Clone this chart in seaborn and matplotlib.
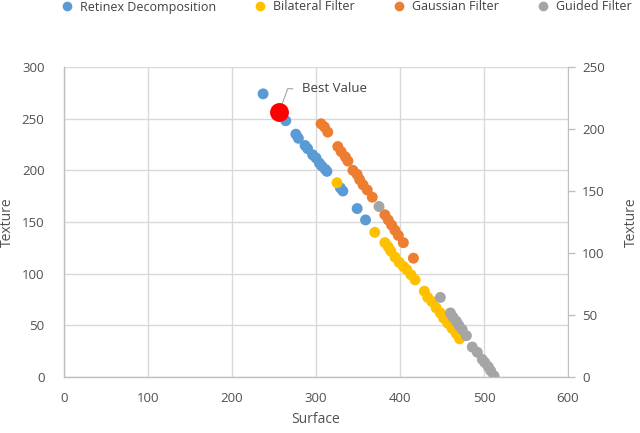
import matplotlib
matplotlib.use("Agg")
import matplotlib.pyplot as plt
from matplotlib.lines import Line2D
import seaborn as sns
import pandas as pd

# values (left-axis units)
retinex_x = [237, 264, 276, 279, 287, 290, 296, 300, 304, 307, 311, 313, 329, 332, 349, 359]
retinex_y = [274, 248, 235, 231, 224, 221, 215, 212, 207, 204, 201, 199, 183, 180, 163, 152]

bilateral_x = [325, 370, 382, 386, 389, 394, 399, 404, 408, 413, 418, 429, 433, 438, 443, 448, 452, 457, 462, 467, 471]
bilateral_y = [188, 140, 130, 126, 122, 116, 111, 107, 104, 99, 94, 83, 77, 73, 67, 62, 57, 52, 47, 42, 37]

gaussian_x = [306, 310, 314, 326, 330, 335, 338, 344, 349, 352, 356, 361, 367, 382, 386, 390, 394, 398, 404, 416]
gaussian_y = [245, 242, 237, 223, 218, 213, 209, 200, 196, 191, 186, 181, 174, 157, 152, 147, 142, 137, 130, 115]

guided_x = [375, 448, 460, 463, 467, 470, 474, 479, 486, 492, 498, 501, 505, 508, 512]
guided_y = [165, 77, 62, 58, 54, 50, 46, 40, 29, 24, 17, 14, 10, 6, 1]

best_x = [256]
best_y = [256]

series_names = ["Retinex Decomposition", "Bilateral Filter", "Gaussian Filter", "Guided Filter"]
series_colors = ["#5B9BD5", "#FFC000", "#ED7D31", "#A5A5A5"]

frames = []
for name, xs, ys in zip(series_names,
                        [retinex_x, bilateral_x, gaussian_x, guided_x],
                        [retinex_y, bilateral_y, gaussian_y, guided_y]):
    frames.append(pd.DataFrame({"Surface": xs, "Texture": ys, "series": name}))
df = pd.concat(frames, ignore_index=True)

sns.set_style("white")
plt.rcParams["font.family"] = ["Open Sans", "DejaVu Sans"]

text_color = "#505050"
axis_color = "#BFBFBF"
grid_color = "#D9D9D9"

fig = plt.figure(figsize=(6.4, 4.33), dpi=100)
ax = fig.add_axes([0.1, 0.1293, 0.7875, 0.716])

sns.scatterplot(data=df, x="Surface", y="Texture", hue="series",
                hue_order=series_names, palette=series_colors,
                s=62, linewidth=0, alpha=1, legend=False, ax=ax, zorder=3)
ax.scatter(best_x, best_y, s=185, color="#FF0000", linewidth=0, zorder=4)

ax.set_xlim(0, 600)
ax.set_ylim(0, 300)
ax.set_xticks(range(0, 601, 100))
ax.set_yticks(range(0, 301, 50))
ax.grid(True, color=grid_color, linewidth=1)
ax.set_axisbelow(True)
ax.tick_params(axis="y", length=0, labelsize=9.5, colors=text_color, pad=14)
ax.tick_params(axis="x", length=0, labelsize=9.5, colors=text_color, pad=11)
ax.set_xlabel("Surface", fontsize=10, color=text_color, labelpad=5)
ax.set_ylabel("Texture", fontsize=10, color=text_color, labelpad=5)
for side in ["top", "right"]:
    ax.spines[side].set_visible(False)
for side in ["left", "bottom"]:
    ax.spines[side].set_color(axis_color)
    ax.spines[side].set_linewidth(1)

# secondary axis
ax2 = ax.twinx()
ax2.set_ylim(0, 250)
ax2.set_yticks(range(0, 251, 50))
ax2.tick_params(axis="y", length=5, width=1, color=axis_color, labelsize=9.5,
                labelcolor=text_color, pad=5)
ax2.set_ylabel("Texture", fontsize=10, color=text_color, labelpad=14)
for side in ["top", "left", "bottom"]:
    ax2.spines[side].set_visible(False)
ax2.spines["right"].set_color(axis_color)
ax2.grid(False)

# best value callout
ax.annotate("Best Value", xy=(best_x[0], best_y[0]), xytext=(283, 279),
            fontsize=9.5, color="#404040", va="center", ha="left",
            arrowprops=dict(arrowstyle="-", color="#A5A5A5", lw=0.8,
                            connectionstyle="angle,angleA=0,angleB=70,rad=0",
                            shrinkA=4, shrinkB=2))

handles = [Line2D([], [], marker="o", linestyle="", markersize=7,
                  markerfacecolor=c, markeredgewidth=0) for c in series_colors]
fig.legend(handles, series_names, loc="center", bbox_to_anchor=(0.536, 1 - 7 / 433),
           ncol=4, frameon=False, fontsize=9, handletextpad=0.05, columnspacing=2.5,
           labelcolor="#404040")

fig.savefig("out.png", dpi=100)
